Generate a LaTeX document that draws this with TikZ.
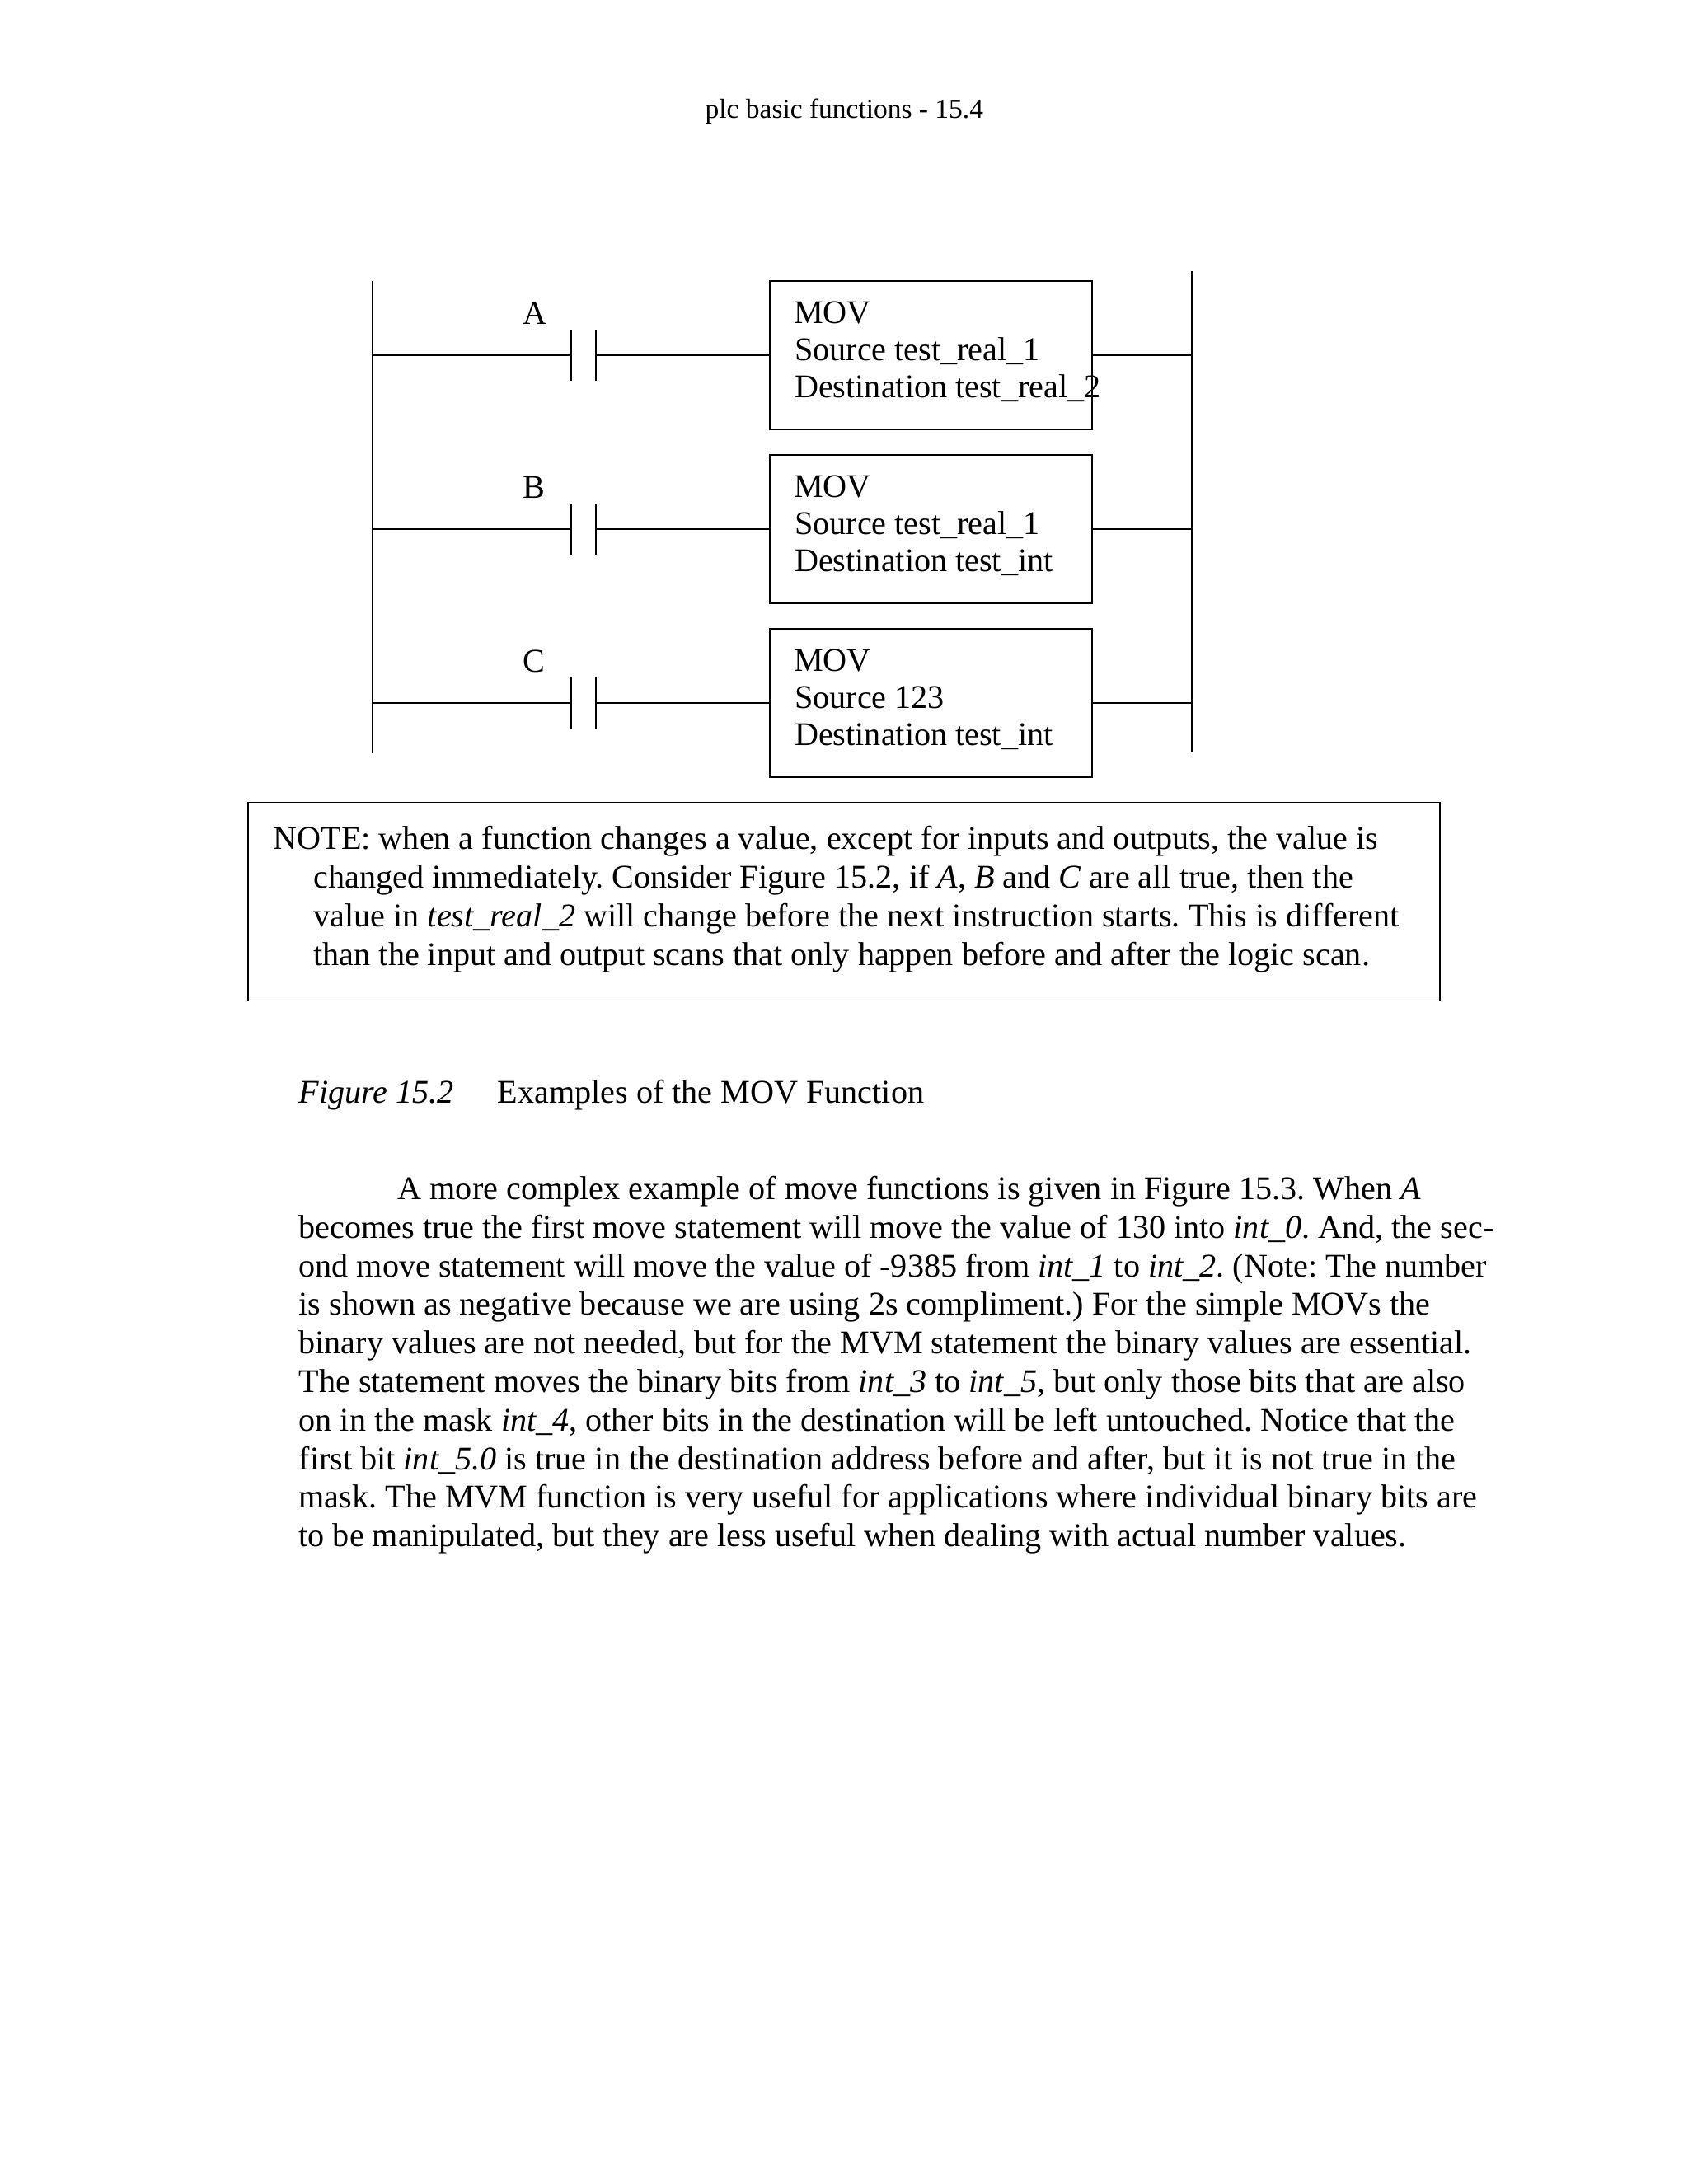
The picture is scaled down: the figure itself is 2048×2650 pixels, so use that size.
\documentclass[tikz,border=0pt]{standalone}
\usepackage{fontspec}
\setmainfont{Liberation Serif}
\usetikzlibrary{calc}
\frenchspacing

\tikzset{
    rail/.style={line width=0.55pt},
    txt/.style={anchor=base west, inner sep=0pt, font=\fontsize{12}{14}\selectfont},
    movbox/.style={draw, line width=0.55pt, inner sep=0pt, outer sep=0pt, minimum width=116.8pt, minimum height=53.9pt},
    notebox/.style={draw, line width=0.55pt, inner sep=0pt, outer sep=0pt, minimum width=432pt, minimum height=72pt}
}

\begin{document}
\begin{tikzpicture}[x=0.29883pt, y=-0.29883pt]
    \useasboundingbox (0,0) rectangle (2048,2650);

    \coordinate (LT) at (452,341);
    \coordinate (LB) at (452,914);
    \coordinate (RT) at (1446,329);
    \coordinate (RB) at (1446,913);

    \draw [rail](LT) -- (LB);
    \draw [rail](RT) -- (RB);

    \node [txt] (head) at (855,143) {\fontsize{10}{12}\selectfont plc basic functions - 15.4};

    % rungs
    \foreach \i/\y/\lab/\src/\dst in {1/431/A/test\_real\_1/test\_real\_2, 2/642/B/test\_real\_1/test\_int, 3/853/C/123/test\_int} {
        \coordinate (L\i) at (452,\y);
        \coordinate (R\i) at (1446,\y);
        \coordinate (P\i) at (693,\y);
        \coordinate (Q\i) at (723,\y);
        \node [movbox] (box\i) at (1129.5,\y) {};

        \draw [rail](L\i) -- (P\i);
        \draw [rail](Q\i) -- (box\i.west);
        \draw [rail](box\i.east) -- (R\i);
        \draw [rail]($(P\i)+(0,-31)$) -- ($(P\i)+(0,31)$);
        \draw [rail]($(Q\i)+(0,-31)$) -- ($(Q\i)+(0,31)$);

        \node [txt] (lab\i) at (634,\y-38) {\lab};
        \node [txt] (mov\i) at (962.5,\y-39) {MOV};
        \node [txt] (src\i) at (963.5,\y+6) {Source \src};
        \node [txt] (dst\i) at (963.5,\y+51) {Destination \dst};
    }

    \node [notebox] (note) at (1024,1094) {};
    \node [txt] (note1) at (331,1030) {NOTE: when a function changes a value, except for inputs and outputs, the value is};
    \node [txt] (note2) at (380,1077) {changed immediately. Consider Figure 15.2, if \textit{A}, \textit{B} and \textit{C} are all true, then the};
    \node [txt] (note3) at (380,1124) {value in \textit{test\_real\_2} will change before the next instruction starts. This is different};
    \node [txt] (note4) at (380,1171) {than the input and output scans that only happen before and after the logic scan.};

    \node [txt] (figlab) at (362,1338) {\textit{Figure 15.2}};
    \node [txt] (figcap) at (603,1338) {Examples of the MOV Function};

    \node [txt] (body1) at (482,1455.5) {A more complex example of move functions is given in Figure 15.3. When \textit{A}};
    \node [txt] (body2) at (362,1502.3) {becomes true the first move statement will move the value of 130 into \textit{int\_0}. And, the sec-};
    \node [txt] (body3) at (362,1549.1) {ond move statement will move the value of -9385 from \textit{int\_1} to \textit{int\_2}. (Note: The number};
    \node [txt] (body4) at (362,1595.9) {is shown as negative because we are using 2s compliment.) For the simple MOVs the};
    \node [txt] (body5) at (362,1642.7) {binary values are not needed, but for the MVM statement the binary values are essential.};
    \node [txt] (body6) at (362,1689.5) {The statement moves the binary bits from \textit{int\_3} to \textit{int\_5}, but only those bits that are also};
    \node [txt] (body7) at (362,1736.3) {on in the mask \textit{int\_4}, other bits in the destination will be left untouched. Notice that the};
    \node [txt] (body8) at (362,1783.1) {first bit \textit{int\_5.0} is true in the destination address before and after, but it is not true in the};
    \node [txt] (body9) at (362,1829.9) {mask. The MVM function is very useful for applications where individual binary bits are};
    \node [txt] (body10) at (362,1876.7) {to be manipulated, but they are less useful when dealing with actual number values.};
\end{tikzpicture}
\end{document}
